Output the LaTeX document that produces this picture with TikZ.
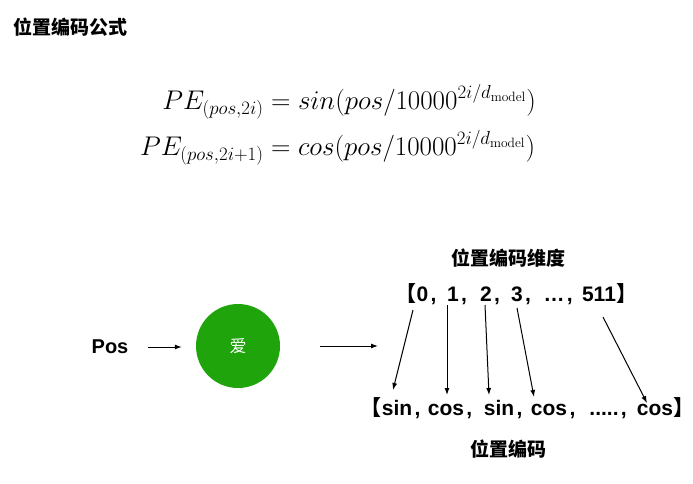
\RequirePackage{fix-cm}
\documentclass[tikz,border=0pt]{standalone}
\usepackage{amsmath}
\usepackage{fontspec}
\newfontfamily\cjk{Noto Sans CJK SC}
\newfontfamily\lat{Liberation Sans}
\usetikzlibrary{arrows.meta,calc}
\definecolor{pegreen}{HTML}{1FA40B}
\begin{document}
\begin{tikzpicture}[x=1pt,y=-1pt,
  arr/.style={-{Latex[length=7pt,width=5pt]}, line width=1pt},
  lbl/.style={font=\cjk\bfseries\fontsize{19}{19}\selectfont, inner sep=0},
  itm/.style={font=\lat\bfseries\fontsize{21}{21}\selectfont, inner sep=0, anchor=base},
  cma/.style={font=\lat\bfseries\fontsize{21}{21}\selectfont, inner sep=0, anchor=base west, xshift=2pt},
  pun/.style={font=\cjk\bfseries\fontsize{21}{21}\selectfont, inner sep=0}]
\useasboundingbox[fill=white] (0,0) rectangle (693,484);

% title
\node[lbl, anchor=west] (title) at (13,27) {位置编码公式};

% formula
\node[inner sep=0, font=\fontsize{27}{32}\selectfont] (formula) at (338,125)
 {$\begin{aligned}
 PE_{(pos,2i)} &= sin(pos/10000^{2i/d_{\mathrm{model}}})\\[7pt]
 PE_{(pos,2i+1)} &= cos(pos/10000^{2i/d_{\mathrm{model}}})
 \end{aligned}$};

% left part
\node[font=\lat\bfseries\fontsize{20}{20}\selectfont, inner sep=0] (pos) at (110,347) {Pos};
\node[circle, fill=pegreen, minimum size=84pt, inner sep=0, text=white,
      font=\cjk\fontsize{17}{17}\selectfont] (ai) at (238,346) {爱};
\coordinate (rowin) at (378,346);
\draw[arr, shorten <=19pt, shorten >=14pt] (pos.east) -- (pos.east -| ai.west);
\draw[arr, shorten <=40pt] (ai.east) -- (rowin);

% labels
\node[lbl] (dimlab) at (508,258) {位置编码维度};
\node[lbl] (pelab) at (508,449) {位置编码};

% upper row
\node[itm] (n0) at (422.5,301) {0};
\node[itm] (n1) at (453,301) {1};
\node[itm] (n2) at (486,301) {2};
\node[itm] (n3) at (517,301) {3};
\node[itm] (nd) at (554,301) {…};
\node[itm] (n511) at (599,301) {511};
\node[pun, anchor=base east] (lb1) at (n0.base west) {【};
\node[pun, anchor=base west] (rb1) at (n511.base east) {】};
\node[cma] (c0) at (n0.base east) {,};
\node[cma] (c1) at (n1.base east) {,};
\node[cma] (c2) at (n2.base east) {,};
\node[cma] (c3) at (n3.base east) {,};
\node[cma] (c4) at (nd.base east) {,};

% lower row
\node[itm] (s1) at (397,415) {sin};
\node[itm] (s2) at (446,415) {cos};
\node[itm] (s3) at (499,415) {sin};
\node[itm] (s4) at (549,415) {cos};
\node[itm] (sd) at (604,415) {.....};
\node[itm] (s6) at (655,415) {cos};
\node[pun, anchor=base east] (lb2) at (s1.base west) {【};
\node[pun, anchor=base west] (rb2) at (s6.base east) {】};
\node[cma] (d1) at (s1.base east) {,};
\node[cma] (d2) at (s2.base east) {,};
\node[cma] (d3) at (s3.base east) {,};
\node[cma] (d4) at (s4.base east) {,};
\node[cma] (d5) at (sd.base east) {,};

% mapping arrows
\draw[arr] ($(n0.base)+(-9.5,9)$) -- ($(s1.base)+(-4,-25)$);
\draw[arr] ($(n1.base)+(-6,4)$) -- ($(s2.base)+(1,-20)$);
\draw[arr] ($(n2.base)+(-1,4)$) -- ($(s3.base)+(-10,-20)$);
\draw[arr] ($(n3.base)+(0,7)$) -- ($(s4.base)+(-15,-18)$);
\draw[arr] ($(n511.base)+(4,16)$) -- ($(s6.base)+(-8,-12)$);
\end{tikzpicture}
\end{document}
